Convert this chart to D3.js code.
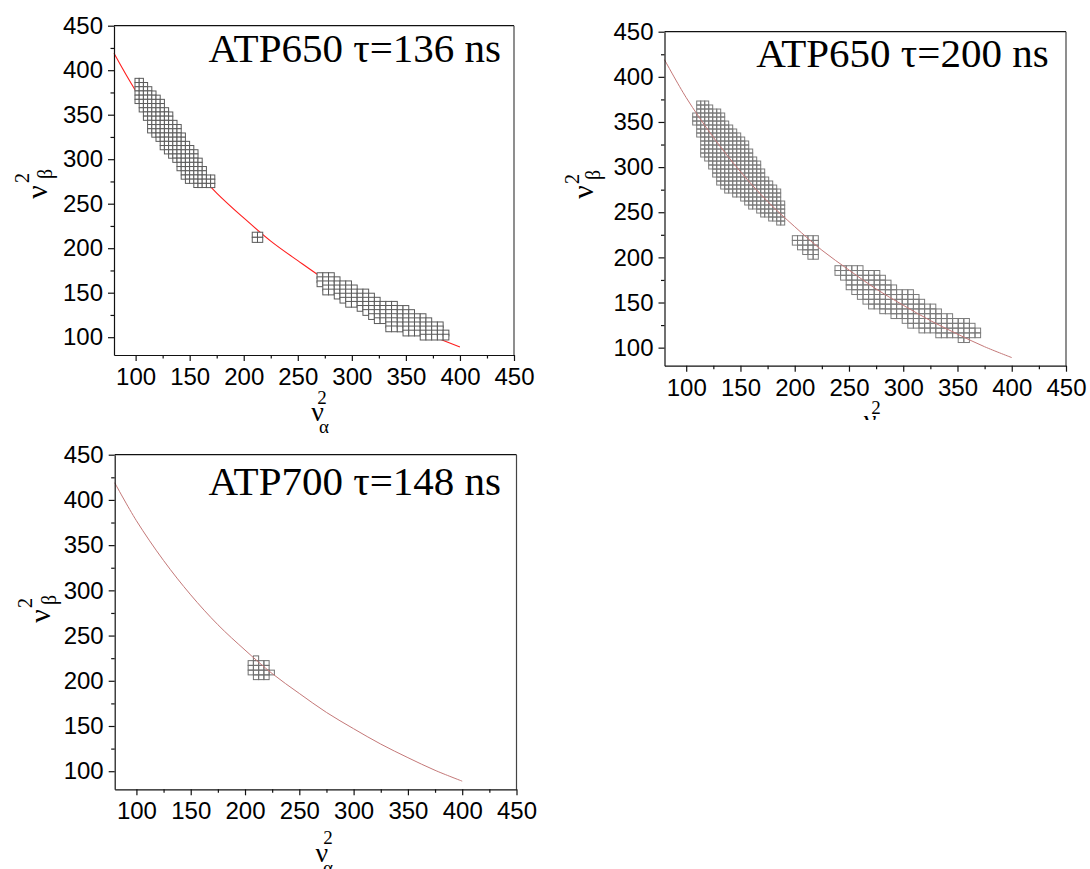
<!DOCTYPE html>
<html><head><meta charset="utf-8">
<script src="https://cdn.jsdelivr.net/npm/d3@7"></script>
<style>body{margin:0;background:#fff}svg{display:block}</style>
</head><body>
<svg id="c" width="1090" height="869"></svg>
<script>
// ---------- data ----------
const axisDomain = [80, 450];
const xTickValues = [100, 150, 200, 250, 300, 350, 400, 450];
const yTickValues = [100, 150, 200, 250, 300, 350, 400, 450];
const minorTickValues = [125, 175, 225, 275, 325, 375, 425];

const titles = ["ATP650 \u03c4=136 ns", "ATP650 \u03c4=200 ns", "ATP700 \u03c4=148 ns"];

// fitted curve (v_alpha^2, v_beta^2)
const fitX = [80, 100, 125, 150, 175, 200, 225, 250, 275, 300, 325, 350, 375, 400];
const fitY = [419, 377, 333, 295, 262, 234, 208, 186, 165, 147, 130, 115, 101, 89];

// clusters of square markers: first column x, column step, row step, per-column top / bottom values
const p1UpperStart = 101.37, p1UpperDx = 3.885, p1UpperDy = 4.72;
const p1UpperHigh = [388.5,388.5,383.8,379.1,374.3,369.6,364.9,355.5,350.7,341.3,336.6,327.1,317.7,313.0,308.3,298.8,289.4,279.9,279.9];
const p1UpperLow  = [364.9,355.5,346.0,331.9,327.1,322.4,313.0,308.3,303.5,298.8,289.4,279.9,275.2,275.2,270.5,270.5,270.5,270.5,270.5];

const p1MidStart = 210.3, p1MidDx = 4.85, p1MidDy = 5.7;
const p1MidHigh = [215.1, 215.1];
const p1MidLow  = [209.4, 209.4];

const p1LowerStart = 270.5, p1LowerDx = 5.30, p1LowerDy = 4.607;
const p1LowerHigh = [169.2,169.2,169.2,164.6,160.0,160.0,155.4,150.8,150.8,146.2,141.6,137.0,137.0,137.0,132.3,132.3,127.7,123.1,123.1,118.5,113.9,113.9,104.7];
const p1LowerLow  = [160.0,150.8,150.8,146.2,141.6,137.0,137.0,132.3,127.7,123.1,118.5,118.5,109.3,109.3,109.3,104.7,104.7,104.7,100.1,100.1,100.1,100.1,100.1];

const p2UpperStart = 107.83, p2UpperDx = 3.686, p2UpperDy = 4.431;
const p2UpperHigh = [357.7,371.0,371.0,371.0,366.6,362.1,362.1,357.7,348.8,344.4,340.0,335.6,331.1,326.7,317.8,309.0,304.5,295.7,286.8,282.4,277.9,273.5,260.2];
const p2UpperLow  = [348.8,335.6,313.4,309.0,300.1,291.2,282.4,277.9,273.5,273.5,269.1,269.1,264.7,260.2,255.8,255.8,251.4,246.9,246.9,242.5,242.5,238.1,238.1];

const p2MidStart = 200.2, p2MidDx = 4.79, p2MidDy = 5.207;
const p2MidHigh = [221.4, 221.4, 221.4, 221.4, 221.4];
const p2MidLow  = [216.2, 211.0, 205.8, 200.6, 200.6];

const p2LowerStart = 239.7, p2LowerDx = 5.161, p2LowerDy = 5.317;
const p2LowerHigh = [188.1,188.1,188.1,188.1,188.1,182.8,182.8,182.8,177.5,172.1,166.8,161.5,161.5,161.5,156.2,150.9,145.6,145.6,140.2,134.9,134.9,129.6,129.6,129.6,124.3,119.0];
const p2LowerLow  = [182.8,177.5,166.8,161.5,156.2,150.9,145.6,145.6,140.2,140.2,134.9,134.9,129.6,124.3,124.3,119.0,119.0,119.0,113.7,113.7,113.7,113.7,108.3,108.3,113.7,113.7];

const p3Start = 205.3, p3Dx = 4.83, p3Dy = 5.25;
const p3High = [219.65, 224.9, 219.65, 219.65, 209.15];
const p3Low  = [209.15, 203.9, 203.9, 203.9, 209.15];

// ---------- layout / style ----------
const fitPoints = fitX.map((v, i) => [v, fitY[i]]);
function expand(start, dx, dy, high, low) {
  const pts = [];
  high.forEach((h, i) => {
    const xv = start + i * dx;
    for (let yv = high[i]; yv >= low[i] - dy * 0.3; yv -= dy) pts.push([xv, yv]);
  });
  return pts;
}

const panels = [
  { left: 114, right: 514, top: 25.7, bottom: 355, title: titles[0], titleX: 501, titleY: 62,
    fitColor: "#ff1e1e", fitWidth: 1.1, fitOnTop: false, sq: "#5a5a5a",
    clusters: [
      { start: p1UpperStart, dx: p1UpperDx, dy: p1UpperDy, high: p1UpperHigh, low: p1UpperLow },
      { start: p1MidStart, dx: p1MidDx, dy: p1MidDy, high: p1MidHigh, low: p1MidLow },
      { start: p1LowerStart, dx: p1LowerDx, dy: p1LowerDy, high: p1LowerHigh, low: p1LowerLow, square: true }
    ],
    xl: { sup: [322, 404], nu: [317.5, 421], sub: [324, 433] },
    yl: { nu: [46.5, 192], sup: [28.5, 178], sub: [52, 174] }, clip: null },
  { left: 664.5, right: 1066, top: 31.7, bottom: 365.7, title: titles[1], titleX: 1048.6, titleY: 67,
    fitColor: "#c47878", fitWidth: 1, fitOnTop: true, sq: "#7a7a7a",
    clusters: [
      { start: p2UpperStart, dx: p2UpperDx, dy: p2UpperDy, high: p2UpperHigh, low: p2UpperLow },
      { start: p2MidStart, dx: p2MidDx, dy: p2MidDy, high: p2MidHigh, low: p2MidLow },
      { start: p2LowerStart, dx: p2LowerDx, dy: p2LowerDy, high: p2LowerHigh, low: p2LowerLow }
    ],
    xl: { sup: [876, 414], nu: [870, 429], sub: [877, 440] },
    yl: { nu: [592.6, 192], sup: [579, 179], sub: [600, 175] }, clip: [540, 0, 550, 420] },
  { left: 114.7, right: 516.5, top: 454.7, bottom: 789.3, title: titles[2], titleX: 501, titleY: 495,
    fitColor: "#c47878", fitWidth: 1, fitOnTop: true, sq: "#707070",
    clusters: [
      { start: p3Start, dx: p3Dx, dy: p3Dy, high: p3High, low: p3Low }
    ],
    xl: { sup: [328, 844], nu: [321.8, 862], sub: [328, 874] },
    yl: { nu: [49.9, 616], sup: [31.5, 603], sub: [56, 600] }, clip: null }
];

const svg = d3.select("#c");
const defs = svg.append("defs");
const sans = "'Liberation Sans', Arial, sans-serif";
const serif = "'Liberation Serif', 'Times New Roman', serif";

panels.forEach((p, pi) => {
  const g = svg.append("g");
  if (p.clip) {
    defs.append("clipPath").attr("id", "clip" + pi).append("rect")
      .attr("x", p.clip[0]).attr("y", p.clip[1]).attr("width", p.clip[2]).attr("height", p.clip[3]);
    g.attr("clip-path", `url(#clip${pi})`);
  }
  const x = d3.scaleLinear().domain(axisDomain).range([p.left, p.right]);
  const y = d3.scaleLinear().domain(axisDomain).range([p.bottom, p.top]);

  const line = d3.line().x(d => x(d[0])).y(d => y(d[1])).curve(d3.curveCatmullRom);
  const drawFit = () => g.append("path").datum(fitPoints).attr("d", line)
    .attr("fill", "none").attr("stroke", p.fitColor).attr("stroke-width", p.fitWidth);

  if (!p.fitOnTop) drawFit();

  p.clusters.forEach(c => {
    const pts = expand(c.start, c.dx, c.dy, c.high, c.low);
    const w = Math.abs(x(c.start + c.dx) - x(c.start));
    const h = c.square ? w : Math.abs(y(0) - y(c.dy));
    g.append("g").selectAll("rect").data(pts).join("rect")
      .attr("x", d => x(d[0]) - w / 2).attr("y", d => y(d[1]) - h / 2)
      .attr("width", w).attr("height", h)
      .attr("fill", p.fitOnTop ? "none" : "#fff")
      .attr("stroke", p.sq).attr("stroke-width", 1);
  });

  if (p.fitOnTop) drawFit();

  // frame (top / right)
  g.append("line").attr("x1", p.left).attr("x2", p.right).attr("y1", p.top).attr("y2", p.top)
    .attr("stroke", "#111").attr("stroke-width", 1.2);
  g.append("line").attr("x1", p.right).attr("x2", p.right).attr("y1", p.top).attr("y2", p.bottom)
    .attr("stroke", "#444").attr("stroke-width", 1.2);

  // axes
  const ax = g.append("g").attr("transform", `translate(0,${p.bottom})`)
    .call(d3.axisBottom(x).tickValues(xTickValues).tickSize(6).tickSizeOuter(0).tickPadding(7).tickFormat(d3.format("d")));
  const axm = g.append("g").attr("transform", `translate(0,${p.bottom})`)
    .call(d3.axisBottom(x).tickValues(minorTickValues).tickSize(3.5).tickFormat(""));
  axm.select(".domain").remove();
  const ay = g.append("g").attr("transform", `translate(${p.left},0)`)
    .call(d3.axisLeft(y).tickValues(yTickValues).tickSize(6).tickSizeOuter(0).tickPadding(5).tickFormat(d3.format("d")));
  const aym = g.append("g").attr("transform", `translate(${p.left},0)`)
    .call(d3.axisLeft(y).tickValues(minorTickValues).tickSize(3.5).tickFormat(""));
  aym.select(".domain").remove();
  [ax, ay, axm, aym].forEach(a => {
    a.selectAll("path,line").attr("stroke", "#111").attr("stroke-width", 1.2);
    a.selectAll("text").attr("font-family", sans).attr("font-size", 24).attr("fill", "#000");
  });

  // title
  g.append("text").attr("x", p.titleX).attr("y", p.titleY).attr("text-anchor", "end")
    .attr("font-family", serif).attr("font-size", 41).attr("fill", "#000").text(p.title);

  // x label
  const xl = g.append("g").attr("font-family", serif).attr("fill", "#000").attr("text-anchor", "middle");
  xl.append("text").attr("x", p.xl.sup[0]).attr("y", p.xl.sup[1]).attr("font-size", 19).text("2");
  xl.append("text").attr("x", p.xl.nu[0]).attr("y", p.xl.nu[1]).attr("font-size", 28).text("\u03bd");
  xl.append("text").attr("x", p.xl.sub[0]).attr("y", p.xl.sub[1]).attr("font-size", 19).text("\u03b1");

  // y label (rotated)
  const yl = g.append("g").attr("font-family", serif).attr("fill", "#000").attr("text-anchor", "middle");
  const rot = (pos) => `translate(${pos[0]},${pos[1]}) rotate(-90)`;
  yl.append("text").attr("transform", rot(p.yl.nu)).attr("font-size", 30).text("\u03bd");
  yl.append("text").attr("transform", rot(p.yl.sup)).attr("font-size", 20).text("2");
  yl.append("text").attr("transform", rot(p.yl.sub)).attr("font-size", 20).text("\u03b2");
});
</script>
</body></html>
